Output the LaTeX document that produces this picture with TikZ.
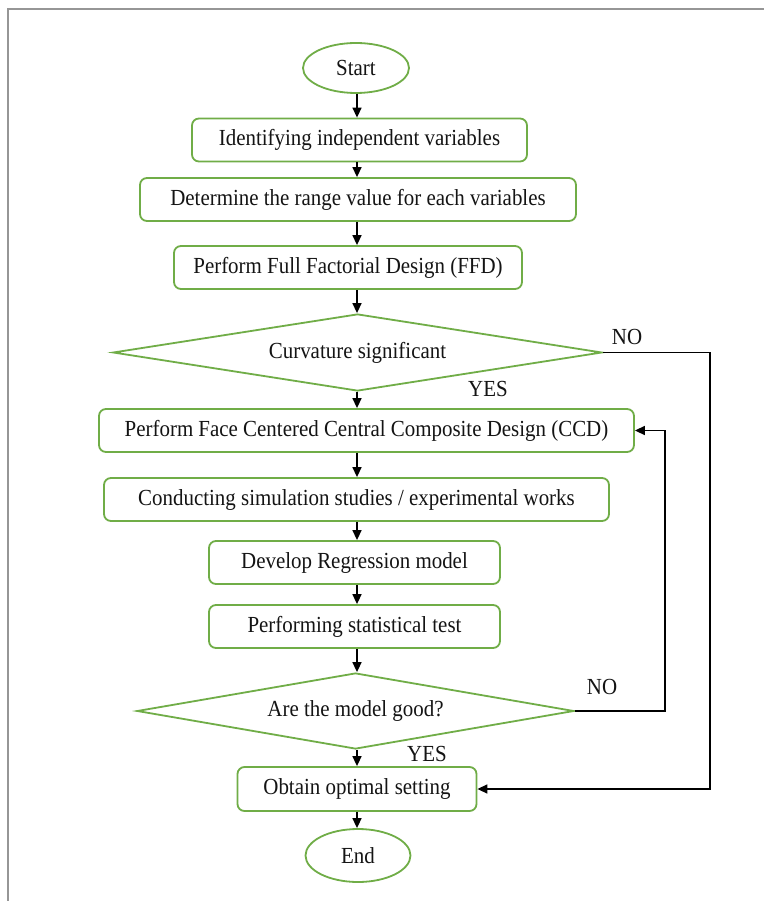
\documentclass[tikz,border=0pt]{standalone}
\usepackage{fontspec}
\setmainfont{Liberation Serif}[FakeStretch=0.91]
\usetikzlibrary{shapes.geometric,arrows.meta}
\definecolor{boxgreen}{RGB}{112,173,71}
\definecolor{framegray}{RGB}{150,150,150}
\tikzset{
  every node/.style={font=\fontsize{23}{26}\selectfont, text=black!92},
  procbox/.style={draw=boxgreen, line width=1.8pt, rounded corners=7pt, inner sep=0pt, fill=white},
  termbox/.style={draw=boxgreen, line width=1.8pt, ellipse, inner sep=0pt, fill=white},
  decbox/.style={draw=boxgreen, line width=1.8pt, diamond, inner sep=0pt, fill=white},
  arr/.style={draw=black, line width=1.5pt, -{Triangle[length=10pt,width=9pt]}},
  lbl/.style={inner sep=0pt}
}
\begin{document}
\begin{tikzpicture}[x=1pt,y=-1pt]
\useasboundingbox (0,0) rectangle (764,901);
\fill[white] (0,0) rectangle (764,901);
\draw[framegray, line width=2pt] (8,901) -- (8,9) -- (764,9);

\node[termbox, minimum width=106pt, minimum height=50pt] (start) at (356,68) {Start};
\node[procbox, minimum width=335pt, minimum height=43pt] (b1) at (359.5,140) {Identifying independent variables};
\node[procbox, minimum width=436pt, minimum height=43pt] (b2) at (358,199.5) {Determine the range value for each variables};
\node[procbox, minimum width=348pt, minimum height=43pt] (b3) at (348,267.5) {Perform Full Factorial Design (FFD)};
\node[decbox, aspect=6.35, minimum width=489pt, minimum height=77pt] (d1) at (357.5,352.5) {Curvature significant};
\node[procbox, minimum width=535pt, minimum height=43pt] (b4) at (366.5,430.5) {Perform Face Centered Central Composite Design (CCD)};
\node[procbox, minimum width=505pt, minimum height=43pt] (b5) at (356.5,499.5) {Conducting simulation studies / experimental works};
\node[procbox, minimum width=291pt, minimum height=43pt] (b6) at (354.5,562.5) {Develop Regression model};
\node[procbox, minimum width=291pt, minimum height=43pt] (b7) at (354.5,626.5) {Performing statistical test};
\node[decbox, aspect=5.75, minimum width=437pt, minimum height=76pt] (d2) at (355.5,711) {Are the model good?};
\node[procbox, minimum width=239pt, minimum height=44pt] (b8) at (357,789) {Obtain optimal setting};
\node[termbox, minimum width=105pt, minimum height=53pt] (end) at (358,855.5) {End};

\coordinate (ax) at (357,0);
\draw[arr] (start.south -| ax) -- (b1.north -| ax);
\draw[arr] (b1.south -| ax) -- (b2.north -| ax);
\draw[arr] (b2.south -| ax) -- (b3.north -| ax);
\draw[arr] (b3.south -| ax) -- (d1.north -| ax);
\draw[arr] (d1.south -| ax) -- (b4.north -| ax);
\draw[arr] (b4.south -| ax) -- (b5.north -| ax);
\draw[arr] (b5.south -| ax) -- (b6.north -| ax);
\draw[arr] (b6.south -| ax) -- (b7.north -| ax);
\draw[arr] (b7.south -| ax) -- (d2.north -| ax);
\draw[arr] (d2.south -| ax) -- (b8.north -| ax);
\draw[arr] (b8.south -| ax) -- (end.north -| ax);

\coordinate (r1) at (710,0);
\coordinate (r2) at (665,0);
\draw[arr] (d1.east) -- (d1.east -| r1) -- (b8.east -| r1) -- (b8.east);
\draw[arr] (d2.east) -- (d2.east -| r2) -- (b4.east -| r2) -- (b4.east);

\node[lbl] (no1) at (627,337) {NO};
\node[lbl] (yes1) at (488,389) {YES};
\node[lbl] (no2) at (602,687) {NO};
\node[lbl] (yes2) at (427,754) {YES};
\end{tikzpicture}
\end{document}
